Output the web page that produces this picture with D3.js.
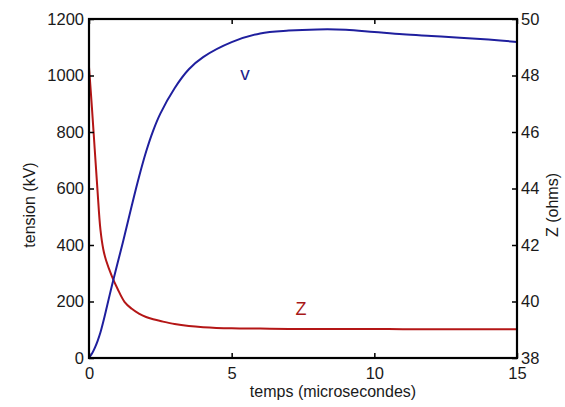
<!DOCTYPE html>
<html lang="fr">
  <head>
    <meta charset="UTF-8" />
    <title>Tension et impédance</title>
    <script src="https://d3js.org/d3.v7.min.js"></script>
    <style>
      body {
        margin: 0;
        background: #fff;
      }
      svg text {
        font-family: "Liberation Sans", Arial, sans-serif;
        fill: #1a1a1a;
      }
      .tick text {
        font-size: 16.5px;
      }
      .axis-title {
        font-size: 16px;
      }
    </style>
  </head>
  <body>
    <svg id="chart" width="565" height="407"></svg>
    <script>
      // time (microseconds), shared by both series
      const temps = [0, 0.1, 0.2, 0.3, 0.4, 0.5, 0.6, 0.8, 1.0, 1.25, 1.5, 1.75, 2, 2.25, 2.5, 3, 3.5, 4, 5, 6, 7, 8, 9, 10, 11, 12, 13, 14, 15];
      // voltage v (kV), left axis
      const tension = [0, 15, 35, 60, 90, 128, 170, 255, 335, 435, 540, 640, 730, 805, 865, 955, 1022, 1065, 1118, 1149, 1159, 1163, 1162, 1154, 1146, 1140, 1134, 1127, 1119];
      // impedance Z (ohms), right axis
      const impedance = [48.3, 46.9, 45.4, 43.9, 42.55, 41.85, 41.45, 40.9, 40.45, 39.98, 39.74, 39.57, 39.45, 39.37, 39.31, 39.2, 39.13, 39.09, 39.05, 39.04, 39.03, 39.03, 39.03, 39.03, 39.02, 39.02, 39.02, 39.02, 39.02];

      const xTicks = [0, 5, 10, 15];
      const leftTicks = [0, 200, 400, 600, 800, 1000, 1200];
      const rightTicks = [38, 40, 42, 44, 46, 48, 50];

      const svg = d3.select("#chart");
      const plot = { left: 89, right: 517, top: 19, bottom: 358 };

      const x = d3.scaleLinear().domain([0, 15]).range([plot.left, plot.right]);
      const yV = d3.scaleLinear().domain([0, 1200]).range([plot.bottom, plot.top]);
      const yZ = d3.scaleLinear().domain([38, 50]).range([plot.bottom, plot.top]);

      const blue = "#1f1f9e";
      const red = "#b41616";

      // curves first, frame on top
      const lineV = d3.line()
        .x((d, i) => x(temps[i]))
        .y((d) => yV(d))
        .curve(d3.curveCatmullRom.alpha(0.5));
      const lineZ = d3.line()
        .x((d, i) => x(temps[i]))
        .y((d) => yZ(d))
        .curve(d3.curveCatmullRom.alpha(0.5));

      svg.append("path")
        .attr("d", lineZ(impedance))
        .attr("fill", "none")
        .attr("stroke", red)
        .attr("stroke-width", 2);

      svg.append("path")
        .attr("d", lineV(tension))
        .attr("fill", "none")
        .attr("stroke", blue)
        .attr("stroke-width", 2);

      // axes (ticks point inward)
      const styleAxis = (g) => {
        g.select(".domain").remove();
        g.selectAll(".tick line").attr("stroke", "#000").attr("stroke-width", 1.5);
      };

      svg.append("g")
        .attr("transform", `translate(0,${plot.bottom})`)
        .call(d3.axisBottom(x).tickValues(xTicks).tickSize(-5).tickPadding(9).tickFormat(d3.format("d")))
        .call(styleAxis);

      svg.append("g")
        .attr("transform", `translate(0,${plot.top})`)
        .call(d3.axisTop(x).tickValues(xTicks).tickSize(-5).tickFormat(""))
        .call(styleAxis);

      svg.append("g")
        .attr("transform", `translate(${plot.left},0)`)
        .call(d3.axisLeft(yV).tickValues(leftTicks).tickSize(-5).tickPadding(5).tickFormat(d3.format("d")))
        .call(styleAxis);

      svg.append("g")
        .attr("transform", `translate(${plot.right},0)`)
        .call(d3.axisRight(yZ).tickValues(rightTicks).tickSize(-5).tickPadding(4).tickFormat(d3.format("d")))
        .call(styleAxis);

      svg.selectAll(".tick text").attr("fill", "#1a1a1a");

      // frame
      svg.append("rect")
        .attr("x", plot.left)
        .attr("y", plot.top)
        .attr("width", plot.right - plot.left)
        .attr("height", plot.bottom - plot.top)
        .attr("fill", "none")
        .attr("stroke", "#000")
        .attr("stroke-width", 2.2);

      // titles
      svg.append("text")
        .attr("class", "axis-title")
        .attr("x", 333)
        .attr("y", 397)
        .attr("text-anchor", "middle")
        .text("temps (microsecondes)");

      svg.append("text")
        .attr("class", "axis-title")
        .attr("transform", "translate(35,205) rotate(-90)")
        .attr("text-anchor", "middle")
        .text("tension (kV)");

      svg.append("text")
        .attr("class", "axis-title")
        .attr("transform", "translate(558,205) rotate(-90)")
        .attr("text-anchor", "middle")
        .text("Z (ohms)");

      // series labels
      svg.append("text")
        .attr("x", 245)
        .attr("y", 80)
        .attr("text-anchor", "middle")
        .style("font-size", "19px")
        .style("fill", "#22228a")
        .text("v");

      svg.append("text")
        .attr("x", 301)
        .attr("y", 315)
        .attr("text-anchor", "middle")
        .style("font-size", "18px")
        .style("fill", "#a81818")
        .text("Z");
    </script>
  </body>
</html>
